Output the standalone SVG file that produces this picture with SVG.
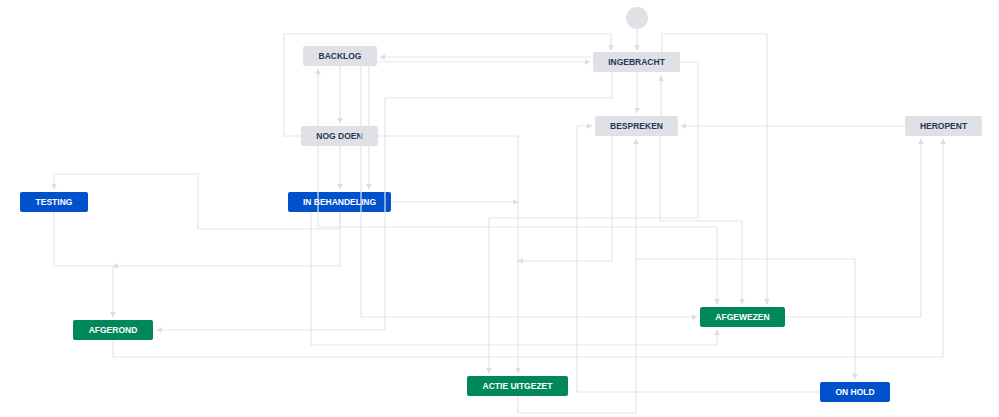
<svg xmlns="http://www.w3.org/2000/svg" width="999" height="417" viewBox="0 0 999 417">
<defs>
<marker id="a" viewBox="0 0 10 10" refX="9" refY="5" markerWidth="6" markerHeight="6" orient="auto" markerUnits="userSpaceOnUse"><path d="M0,0L10,5L0,10z" fill="#dcdee4"/></marker>
<style>
.n{fill:#dfe1e6}.b{fill:#0052cc}.g{fill:#00875a}
text{font-family:"Liberation Sans",Arial,sans-serif;font-size:8.5px;font-weight:bold;text-anchor:middle;dominant-baseline:central}
.dt{fill:#253858}.lt{fill:#fff}
#c path{fill:none;stroke:#e4e5ea;stroke-width:1.2;stroke-linejoin:round;marker-end:url(#a)}
</style>
</defs>
<rect width="999" height="417" fill="#fff"/>
<g id="start"><circle cx="637" cy="18" r="11" fill="#dfe1e6"/></g>
<g id="backlog"><rect class="n" x="303" y="46" width="74" height="20" rx="2"/><text class="dt" x="340" y="56">BACKLOG</text></g>
<g id="ingebracht"><rect class="n" x="593" y="52" width="87" height="20" rx="2"/><text class="dt" x="636.5" y="62">INGEBRACHT</text></g>
<g id="nogdoen"><rect class="n" x="301" y="126" width="77" height="20" rx="2"/><text class="dt" x="339.5" y="136">NOG DOEN</text></g>
<g id="bespreken"><rect class="n" x="595" y="116" width="83" height="20" rx="2"/><text class="dt" x="636.5" y="126">BESPREKEN</text></g>
<g id="heropent"><rect class="n" x="905" y="116" width="77" height="20" rx="2"/><text class="dt" x="943.5" y="126">HEROPENT</text></g>
<g id="testing"><rect class="b" x="20" y="192" width="68" height="20" rx="2"/><text class="lt" x="54" y="202">TESTING</text></g>
<g id="inbehandeling"><rect class="b" x="288" y="192" width="103" height="20" rx="2"/><text class="lt" x="339.5" y="202">IN BEHANDELING</text></g>
<g id="afgerond"><rect class="g" x="73" y="320" width="80" height="20" rx="2"/><text class="lt" x="113" y="330">AFGEROND</text></g>
<g id="afgewezen"><rect class="g" x="700" y="307" width="85" height="20" rx="2"/><text class="lt" x="742.5" y="317">AFGEWEZEN</text></g>
<g id="actieuitgezet"><rect class="g" x="467" y="376" width="101" height="20" rx="2"/><text class="lt" x="517.5" y="386">ACTIE UITGEZET</text></g>
<g id="onhold"><rect class="b" x="820" y="382" width="70" height="20" rx="2"/><text class="lt" x="855" y="392">ON HOLD</text></g>
<g id="c">
<path d="M637,29V50"/>
<path d="M301,136H284V34H611V50"/>
<path d="M593,57H380"/>
<path d="M377,62H485L487,62H590"/>
<path d="M340,66V123"/>
<path d="M318,126V69"/>
<path d="M340,146V189"/>
<path d="M369,66V189"/>
<path d="M612,72V98H385V330H157"/>
<path d="M637,72V113"/>
<path d="M661,116V76"/>
<path d="M662,52V34H767V304"/>
<path d="M680,62H698V218H489V373"/>
<path d="M378,136H518V373"/>
<path d="M391,202H518"/>
<path d="M612,136V261H518"/>
<path d="M820,392H577V126H592"/>
<path d="M518,396V413H636V139"/>
<path d="M636,259H855V379"/>
<path d="M660,136V221H742V304"/>
<path d="M318,146V227H717V304"/>
<path d="M340,212V229H198V174H54V189"/>
<path d="M54,212V266H113V317"/>
<path d="M340,212V266H113"/>
<path d="M361,66V317H697"/>
<path d="M311,212V345H717V330"/>
<path d="M113,340V357H943V139"/>
<path d="M785,317H921V139"/>
<path d="M905,126H681"/>
</g>
</svg>
